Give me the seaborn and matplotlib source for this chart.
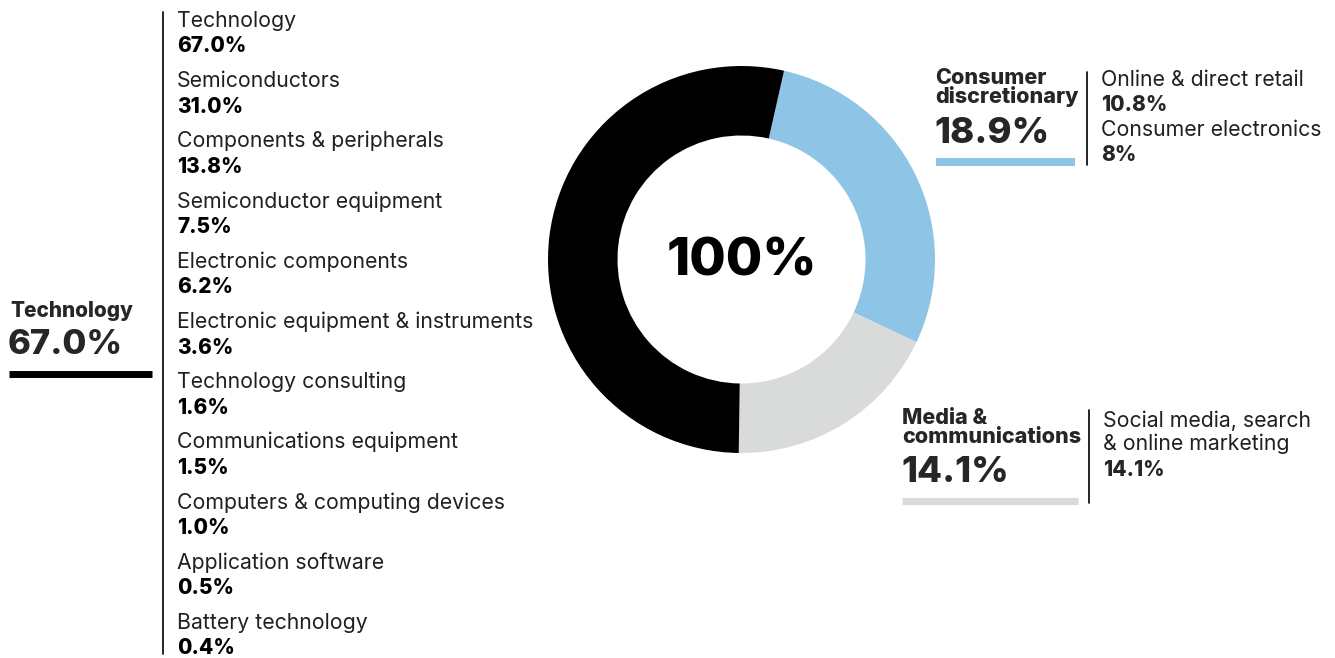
import matplotlib
matplotlib.use("Agg")
import matplotlib.pyplot as plt
import seaborn as sns

# sector totals (printed labels) and measured arc shares of the ring
SECTORS = ["Consumer discretionary", "Media & communications", "Technology"]
SECTOR_LABELS = ["18.9%", "14.1%", "67.0%"]
ARC_SHARES = [28.5, 18.2, 53.3]
SECTOR_COLORS = ["#8ec5e6", "#d9dbda", "#000000"]

TECH_ITEMS = [
    "Technology", "Semiconductors", "Components & peripherals",
    "Semiconductor equipment", "Electronic components",
    "Electronic equipment & instruments", "Technology consulting",
    "Communications equipment", "Computers & computing devices",
    "Application software", "Battery technology",
]
TECH_VALUES = ["67.0%", "31.0%", "13.8%", "7.5%", "6.2%", "3.6%",
               "1.6%", "1.5%", "1.0%", "0.5%", "0.4%"]

CONS_ITEMS = ["Online & direct retail", "Consumer electronics"]
CONS_VALUES = ["10.8%", "8%"]

MEDIA_ITEMS = ["Social media, search\n& online marketing"]
MEDIA_VALUES = ["14.1%"]

sns.set_theme(style="white")
plt.rcParams["font.family"] = ["Inter", "DejaVu Sans"]

W, H = 1335, 658
fig = plt.figure(figsize=(W / 100, H / 100), dpi=100)
ax = fig.add_axes([0, 0, 1, 1])

# ring (y axis is inverted below, so ccw in data = clockwise on screen)
ax.pie(ARC_SHARES, colors=SECTOR_COLORS, startangle=-77.3, counterclock=True,
       center=(741.5, 259.5), radius=193.5,
       wedgeprops={"width": 69.5, "linewidth": 0})
ax.set_xlim(0, W)
ax.set_ylim(H, 0)
ax.set_aspect("equal")
ax.axis("off")

HV = "heavy"
ax.text(742, 275, "100%", ha="center", va="baseline", fontsize=38,
        fontweight=HV, color="black")

NAME_C = "#231f20"
fs_name = 15.3
fs_val = 15

# --- Technology block (left) ---
ax.plot([163, 163], [12, 654], color="black", lw=1.2)
step = 60.2
for i, (nm, v) in enumerate(zip(TECH_ITEMS, TECH_VALUES)):
    ax.text(177, 27 + step * i, nm, fontsize=fs_name, color=NAME_C, va="baseline")
    ax.text(177, 52.5 + step * i, v, fontsize=fs_val, fontweight=HV,
            color="black", va="baseline")

ax.text(10, 317, SECTORS[2], fontsize=15, fontweight=HV, va="baseline")
ax.text(8, 354, SECTOR_LABELS[2], fontsize=25, fontweight=HV, va="baseline")
ax.plot([9, 152], [373.5, 373.5], color=SECTOR_COLORS[2], lw=5, solid_capstyle="butt")

# --- Consumer discretionary block ---
ax.text(935, 103, "Consumer\ndiscretionary", fontsize=15.5, fontweight=HV,
        va="baseline", linespacing=0.9)
ax.text(934, 143.3, SECTOR_LABELS[0], fontsize=26.3, fontweight=HV, va="baseline")
ax.plot([936, 1075], [162, 162], color=SECTOR_COLORS[0], lw=5.8, solid_capstyle="butt")
ax.plot([1087, 1087], [72, 165], color="black", lw=1.2)
cons_base = 86
for i, (nm, v) in enumerate(zip(CONS_ITEMS, CONS_VALUES)):
    ax.text(1101, cons_base + 50 * i, nm, fontsize=fs_name, color=NAME_C, va="baseline")
    ax.text(1101, cons_base + 25 + 50 * i, v, fontsize=fs_val, fontweight=HV,
            va="baseline")

# --- Media & communications block ---
ax.text(902, 442.7, "Media &\ncommunications", fontsize=15.5, fontweight=HV,
        va="baseline", linespacing=0.9)
ax.text(901, 482.3, SECTOR_LABELS[1], fontsize=26.3, fontweight=HV, va="baseline")
ax.plot([902, 1078], [500.5, 500.5], color=SECTOR_COLORS[1], lw=5.2, solid_capstyle="butt")
ax.plot([1089, 1089], [410, 503], color="black", lw=1.2)
ax.text(1103, 450, MEDIA_ITEMS[0], fontsize=fs_name, color=NAME_C, va="baseline",
        linespacing=1.15)
ax.text(1103, 476, MEDIA_VALUES[0], fontsize=fs_val, fontweight=HV, va="baseline")

fig.savefig("out.png", dpi=100)
